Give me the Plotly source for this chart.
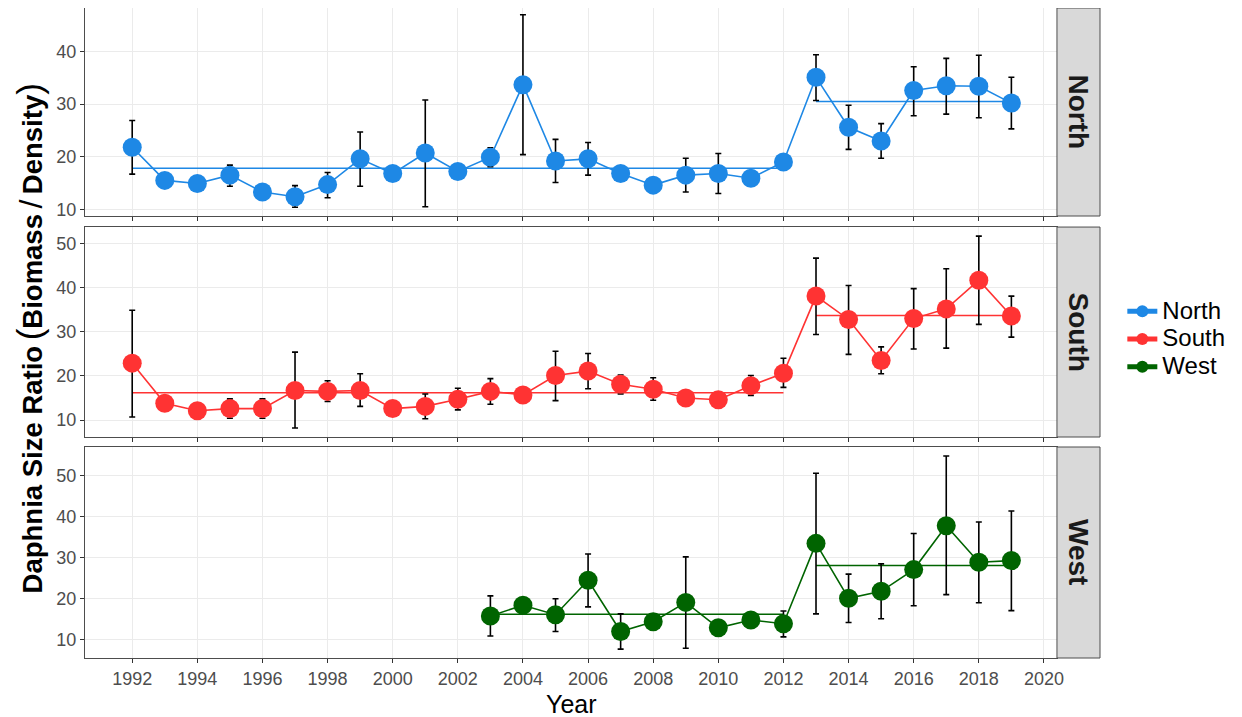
import plotly.graph_objects as go
from plotly.subplots import make_subplots

# ---------------- data ----------------
years_all = list(range(1992, 2020))
years_west = list(range(2003, 2020))

north_val = [21.8, 15.5, 14.9, 16.5, 13.3, 12.4, 14.7, 19.6, 16.8, 20.7, 17.2, 19.9, 33.7, 19.2,
             19.6, 16.8, 14.6, 16.5, 16.8, 15.9, 19.0, 35.1, 25.6, 23.0, 32.6, 33.5, 33.4, 30.2]
north_hi = [26.9, 16.3, 15.6, 18.4, 14.0, 14.5, 17.0, 24.7, 17.6, 30.8, 17.9, 21.7, 47.0, 23.3,
            22.7, 17.5, 15.3, 19.7, 20.6, 16.6, 19.8, 39.4, 29.8, 26.3, 37.1, 38.7, 39.3, 35.1]
north_lo = [16.7, 14.7, 14.2, 14.4, 12.6, 10.4, 12.2, 14.4, 16.0, 10.5, 16.5, 18.1, 20.4, 15.1,
            16.5, 16.1, 13.9, 13.3, 13.0, 15.2, 18.2, 30.7, 21.4, 19.7, 27.8, 28.1, 27.4, 25.3]

south_val = [22.9, 13.8, 12.1, 12.6, 12.6, 16.7, 16.5, 16.7, 12.6, 13.1, 14.7, 16.5, 15.7, 20.1,
             21.1, 18.1, 17.0, 15.0, 14.6, 17.8, 20.6, 38.1, 32.8, 23.5, 33.0, 35.2, 41.7, 33.6]
south_hi = [34.9, 14.5, 12.8, 14.8, 14.8, 25.4, 18.9, 20.5, 13.3, 15.9, 17.2, 19.4, 16.4, 25.6,
            25.1, 20.2, 19.6, 15.7, 15.3, 20.1, 24.0, 46.7, 40.5, 26.6, 39.8, 44.3, 51.7, 38.1]
south_lo = [10.7, 13.1, 11.4, 10.4, 10.4, 8.2, 14.2, 13.1, 11.9, 10.3, 12.3, 13.6, 15.0, 14.4,
            17.1, 15.9, 14.5, 14.3, 13.9, 15.6, 17.4, 29.4, 24.9, 20.5, 26.1, 26.3, 31.7, 28.8]

west_val = [15.8, 18.4, 16.1, 24.5, 12.0, 14.4, 19.1, 12.9, 14.8, 13.9, 33.5, 20.1, 21.8, 27.1,
            37.8, 28.9, 29.3]
west_hi = [20.7, 19.1, 20.0, 30.9, 16.3, 15.9, 30.2, 13.6, 16.6, 17.0, 50.6, 26.0, 28.5, 35.9,
           54.8, 38.7, 41.4]
west_lo = [10.9, 17.7, 12.0, 18.0, 7.7, 12.9, 7.9, 12.2, 13.0, 10.7, 16.3, 14.2, 15.1, 18.3,
           21.0, 19.0, 17.1]

# period means (before / after 2013)
north_means = [17.8, 30.5]
south_means = [16.2, 33.7]
west_means = [16.2, 28.1]
period_bounds_all = [[1992, 2012], [2013, 2019]]
period_bounds_west = [[2003, 2012], [2013, 2019]]

regions = ["North", "South", "West"]
colors = {"North": "#1E88E5", "South": "#FF3333", "West": "#006400"}

x_ticks = list(range(1992, 2021, 2))
y_ticks = [10, 20, 30, 40, 50]

series = {
    "North": (years_all, north_val, north_hi, north_lo, north_means, period_bounds_all),
    "South": (years_all, south_val, south_hi, south_lo, south_means, period_bounds_all),
    "West": (years_west, west_val, west_hi, west_lo, west_means, period_bounds_west),
}

FONT = "Liberation Sans, Arial, sans-serif"

# ---------------- figure ----------------
fig = make_subplots(rows=3, cols=1, shared_xaxes=True, vertical_spacing=0.02)

for i, reg in enumerate(regions, start=1):
    yrs, val, hi, lo, means, bounds = series[reg]
    col = colors[reg]
    for m, (a, b) in zip(means, bounds):
        fig.add_trace(go.Scatter(x=[a, b], y=[m, m], mode="lines",
                                 line=dict(color=col, width=1.6),
                                 showlegend=False, hoverinfo="skip"), row=i, col=1)
    fig.add_trace(go.Scatter(
        x=yrs, y=val, mode="lines+markers",
        name="<span style='font-size:24px'>%s</span>" % reg,
        line=dict(color=col, width=1.6),
        marker=dict(color=col, size=19),
        error_y=dict(type="data", symmetric=False,
                     array=[h - v for h, v in zip(hi, val)],
                     arrayminus=[v - l for v, l in zip(val, lo)],
                     color="black", thickness=1.6, width=3),
    ), row=i, col=1)

# plot area in page pixels: x 85..1100, y 8..658 (page has an 8px body margin)
domains = [[0.68, 1.0], [0.34, 0.663], [0.0, 0.3246]]
yranges = [[8.73, 48.28], [6.16, 53.75], [5.54, 57.0]]
xdom = [0, 0.9576]

for i in range(1, 4):
    fig.update_yaxes(row=i, col=1, domain=domains[i - 1], range=yranges[i - 1],
                     tickvals=y_ticks, showgrid=True, gridcolor="#EBEBEB",
                     gridwidth=1, showline=True, mirror=True, linecolor="#4D4D4D",
                     linewidth=1, ticks="outside", ticklen=4, tickcolor="#333333",
                     tickfont=dict(family=FONT, size=18, color="#4D4D4D"),
                     zeroline=False, automargin=False)
    fig.update_xaxes(row=i, col=1, domain=xdom, range=[1990.55, 2020.4],
                     tickvals=x_ticks, showgrid=True, gridcolor="#EBEBEB", gridwidth=1,
                     showline=True, mirror=True, linecolor="#4D4D4D", linewidth=1,
                     ticks="outside", ticklen=4, tickcolor="#333333",
                     tickfont=dict(family=FONT, size=18, color="#4D4D4D"),
                     showticklabels=(i == 3), zeroline=False, automargin=False)

# facet strips
for (d0, d1), reg in zip(domains, regions):
    fig.add_shape(type="rect", xref="paper", yref="paper", x0=0.9576, x1=1.0,
                  y0=d0, y1=d1, fillcolor="#D9D9D9", line=dict(color="#4D4D4D", width=1))
    fig.add_annotation(xref="paper", yref="paper", x=0.9788, y=(d0 + d1) / 2,
                       xanchor="center", yanchor="middle",
                       text="<b>%s</b>" % reg, textangle=90, showarrow=False,
                       font=dict(family=FONT, size=28, color="#1A1A1A"))

# axis titles
fig.add_annotation(xref="paper", yref="paper", x=(571 - 85) / 1015, y=-0.046,
                   text="Year", showarrow=False, xanchor="center", yanchor="top",
                   font=dict(family=FONT, size=25, color="black"))
ytitle = ("<b>Daphnia Size Ratio\u2009</b>"
          "<span style='font-size:35px'>(</span>"
          "<b>Biomass\u2009</b><span style='font-size:32px'>/</span><b>\u2009Density</b>"
          "<span style='font-size:35px'>)</span>")
fig.add_annotation(xref="paper", yref="paper", x=-0.055, y=0.492,
                   text=ytitle, textangle=-90,
                   showarrow=False, xanchor="center", yanchor="middle",
                   font=dict(family=FONT, size=27.5, color="black"))

fig.update_layout(
    width=1242, height=717,
    margin=dict(l=77, r=150, t=0, b=67),
    plot_bgcolor="white", paper_bgcolor="white",
    showlegend=True,
    legend=dict(x=1.022, y=0.49, xanchor="left", yanchor="middle",
                font=dict(family=FONT, size=19, color="black"),
                itemsizing="constant", tracegroupgap=0, bgcolor="rgba(0,0,0,0)"),
)

fig.write_html("out.html")
